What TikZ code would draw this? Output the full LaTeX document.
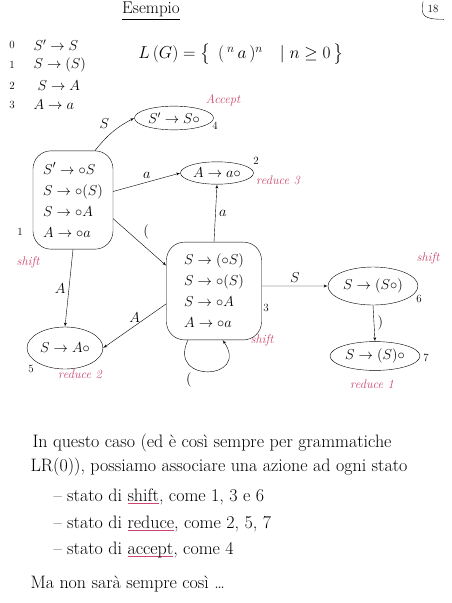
\documentclass[tikz,border=0pt]{standalone}
\usepackage{amsmath}
\usepackage{tikz}
\usetikzlibrary{arrows,positioning,shapes.geometric}
\definecolor{notepink}{RGB}{205,70,110}
\tikzset{font=\fontsize{14}{17}\selectfont}
\tikzset{every node/.append style={transform shape=false}}
\tikzset{state/.style={draw,ellipse,inner xsep=2pt,inner ysep=3pt}}
\tikzset{blob/.style={draw,rounded corners=18pt,align=left,inner xsep=6pt,
    inner ysep=12pt,font=\fontsize{15}{21}\selectfont}}
\tikzset{tag/.style={text=notepink,font=\fontsize{12.5}{15}\selectfont\itshape}}
\tikzset{num/.style={font=\fontsize{11}{13}\selectfont}}
\tikzset{prose/.style={anchor=base west,font=\fontsize{18}{21}\selectfont}}
\newsavebox{\pinkbox}
\newcommand{\pinkul}[1]{\sbox{\pinkbox}{#1}\rlap{\textcolor{notepink}{\rule[-3pt]{\wd\pinkbox}{0.8pt}}}\usebox{\pinkbox}}

\begin{document}
\begin{tikzpicture}[x=1pt,y=-1pt]
  \useasboundingbox (0,0) rectangle (452,603);
  \node[font=\fontsize{17}{20}\selectfont] (title) at (151,11) {\underline{Esempio}};
  \node[num] (page) at (433,9) {18};
  \draw ([xshift=-1pt]page.north west) .. controls ([xshift=-4pt]page.south west) and ([yshift=-3pt]page.south west) .. ([xshift=2pt,yshift=-3pt]page.south east);
  \foreach \k/\y in {0/45,1/65,2/86,3/105}
  \node[num] (n\k) at (12,\y) {\k};
  \node[anchor=west] (g0) at (30,45) {$S'\rightarrow S$};
  \node[anchor=west] (g1) at (30,65) {$S\rightarrow (S)$};
  \node[anchor=west] (g2) at (34,86) {$S\rightarrow A$};
  \node[anchor=west] (g3) at (30,105) {$A\rightarrow a$};
  \node[font=\fontsize{17}{20}\selectfont] (lang) at (241,54) {$L\,(G)=\bigl\{\;\,(\,{}^{n}\,a\,)^{n}\quad|\;n\geq 0\,\bigr\}$};

  \node[state] (s4) at (174,118) {$S'\rightarrow S\circ$};
  \node[blob,minimum width=80pt] (s1) at (73,200) {$S'\rightarrow{\circ}S$\\$S\rightarrow{\circ}(S)$\\$S\rightarrow{\circ}A$\\$A\rightarrow{\circ}a$};
  \node[state] (s2) at (217,173) {$A\rightarrow a\circ$};
  \node[blob,minimum width=95pt] (s3) at (214,291) {$S\rightarrow({\circ}S)$\\$S\rightarrow{\circ}(S)$\\$S\rightarrow{\circ}A$\\$A\rightarrow{\circ}a$};
  \node[state,minimum height=42pt] (s5) at (65,348) {$S\rightarrow A\circ$};
  \node[state,minimum height=38pt] (s6) at (373,286) {$S\rightarrow(S\circ)$};
  \node[state] (s7) at (375,356) {$S\rightarrow(S)\circ$};

  \node[num] (n4) at (215,126) {4};
  \node[num] (n1) at (20,232) {1};
  \node[num] (n2) at (256,161) {2};
  \node[num] (n3) at (266,308) {3};
  \node[num] (n5) at (31,369) {5};
  \node[num] (n6) at (419,299) {6};
  \node[num] (n7) at (426,358) {7};
  \node[tag] (t4) at (223,100) {Accept};
  \node[tag] (t1) at (28,262) {shift};
  \node[tag] (t2) at (278,180) {reduce 3};
  \node[tag] (t3) at (262,340) {shift};
  \node[tag] (t5) at (80,374) {reduce 2};
  \node[tag] (t6) at (428,258) {shift};
  \node[tag] (t7) at (372,384) {reduce 1};

  \draw[-latex'] (s1.66) to[bend left=12] node[above left] {$S$} (s4.west);
  \draw[-latex'] (s1.12) -- node[above] {$a$} (s2.west);
  \draw[-latex'] (s1.-25) -- node[above right] {$($} (s3.152);
  \draw[-latex'] (s1.south) -- node[left] {$A$} (s5.north);
  \draw[-latex'] (s3.north) -- node[right] {$a$} (s2.south);
  \draw[-latex'] (s3.-165) -- node[above] {$A$} (s5.east);
  \draw[-latex'] (s3.-118) to[out=-115,in=-55,looseness=3.6] node[pos=0.35,below left] {$($} (s3.-80);
  \draw[-latex'] (s3.6) -- node[above] {$S$} (s6.west);
  \draw[-latex'] (s6.south) -- node[right] {$)$} (s7.north);

  \node[prose] (p1) at (29,447) {In questo caso (ed è così sempre per grammatiche};
  \node[prose] (p2) at (27,471) {LR(0)), possiamo associare una azione ad ogni stato};
  \node[prose] (b1) at (50,501) {-- stato di \pinkul{shift}, come 1, 3 e 6};
  \node[prose] (b2) at (50,528) {-- stato di \pinkul{reduce}, come 2, 5, 7};
  \node[prose] (b3) at (50,554) {-- stato di \pinkul{accept}, come 4};
  \node[prose] (p3) at (27,588) {Ma non sarà sempre così \dots};
\end{tikzpicture}
\end{document}
